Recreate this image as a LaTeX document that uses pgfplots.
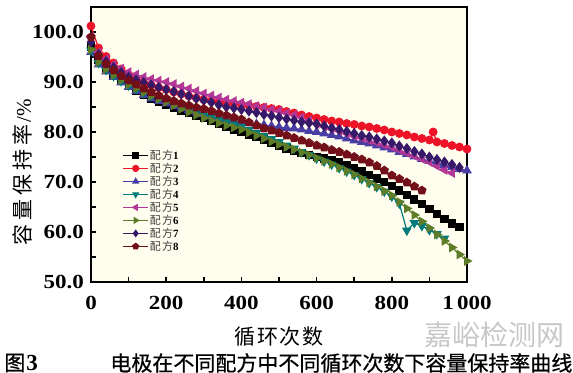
\documentclass[border=0pt]{standalone}
\usepackage{fontspec}
\setmainfont{Liberation Serif}
\newfontfamily\tickfont[FakeStretch=1.15]{Liberation Serif}
\newfontfamily\cjk{Noto Sans CJK SC}
\newfontfamily\cjkb[FakeBold=0.6]{Noto Sans CJK SC}
\usepackage{pgfplots}
\pgfplotsset{compat=1.18}
\usetikzlibrary{plotmarks}
\definecolor{cream}{RGB}{255,253,238}
\definecolor{c1}{RGB}{0,0,0}
\definecolor{c2}{RGB}{237,20,40}
\definecolor{c3}{RGB}{72,60,165}
\definecolor{c4}{RGB}{0,122,122}
\definecolor{c5}{RGB}{178,55,150}
\definecolor{c6}{RGB}{95,125,40}
\definecolor{c7}{RGB}{55,25,105}
\definecolor{c8}{RGB}{115,15,25}
\begin{document}
\begin{tikzpicture}[x=1pt,y=1pt]
\useasboundingbox (0,0) rectangle (286.5,186.5);
\begin{axis}[
  at={(45.5pt,45.5pt)}, anchor=south west,
  scale only axis, width=188pt, height=137.5pt,
  xmin=0, xmax=1000, ymin=50, ymax=105,
  xtick={0,200,400,600,800,1000},
  xticklabels={0,200,400,600,800,1\,000},
  ytick={50,60,70,80,90,100},
  yticklabels={50.0,60.0,70.0,80.0,90.0,100.0},
  minor xtick={100,300,500,700,900},
  minor ytick={55,65,75,85,95},
  tick align=inside, xtick pos=bottom, ytick pos=left,
  major tick length=2.5pt, minor tick length=2.5pt,
  axis line style={line width=0.9pt},
  every tick/.style={line width=0.8pt, black},
  ticklabel style={font=\tickfont\bfseries\fontsize{10}{12}\selectfont},
  xticklabel style={yshift=-3.5pt},
  axis background/.style={fill=cream},
  clip=false,
  xlabel={\cjk 循\hspace{0.8pt}环\hspace{0.8pt}次\hspace{0.8pt}数},
  xlabel style={at={(axis description cs:0.5,-0.2)}, anchor=center, font=\fontsize{10.5}{12}\selectfont},
  ylabel={{\cjk 容\hspace{2pt}量\hspace{2pt}保\hspace{2pt}持\hspace{2pt}率}\hspace{1pt}/\%},
  ylabel style={at={(axis description cs:-0.181,0.4)}, anchor=center, font=\fontsize{10.5}{12}\selectfont},
  legend style={at={(0.083,0.4836)}, anchor=north west, draw=none, fill=none,
    inner sep=0pt, row sep=0.5pt, font=\fontsize{5.5}{6}\selectfont,
    nodes={inner sep=0.5pt, text height=4.5pt, text depth=0.5pt}},
  legend cell align=left,
  legend image code/.code={\draw[mark repeat=2,mark phase=2,mark size=1.5pt,#1] plot coordinates {(0pt,0pt) (6.25pt,0pt) (12.5pt,0pt)};},
]
\addplot[c1, line width=0.6pt, mark=square*, mark size=1.75pt] coordinates {
(0,97.0)(20,94.5)(40,92.8)(60,91.4)(80,90.3)(100,89.3)(120,88.3)(140,87.4)(160,86.7)(180,86.1)(200,85.5)(220,84.9)(240,84.3)(260,83.8)(280,83.3)(300,82.8)(320,82.2)(340,81.6)(360,81.0)(380,80.5)(400,80.0)(420,79.5)(440,79.0)(460,78.5)(480,77.8)(500,77.2)(520,76.7)(540,76.2)(560,75.8)(580,75.4)(600,75.0)(620,74.7)(640,74.3)(660,73.9)(680,73.3)(700,72.8)(720,72.1)(740,71.4)(760,70.7)(780,70.0)(800,69.2)(820,68.3)(840,67.4)(860,66.5)(880,65.6)(900,64.6)(920,63.6)(940,62.6)(960,61.7)(980,61.0)};
\addlegendentry{{\color{black!75}\cjk 配\hspace{0.6pt}方}\textbf{1}}
\addplot[c2, line width=0.6pt, mark=*, mark size=1.9pt] coordinates {
(0,101.2)(20,96.8)(40,95.1)(60,93.8)(80,92.6)(100,91.4)(120,90.5)(140,89.9)(160,89.4)(180,88.9)(200,88.5)(220,88.0)(240,87.6)(260,87.2)(280,86.8)(300,86.5)(320,86.2)(340,86.0)(360,85.8)(380,85.7)(400,85.5)(420,85.3)(440,85.1)(460,84.9)(480,84.7)(500,84.5)(520,84.1)(540,83.8)(560,83.4)(580,83.1)(600,82.8)(620,82.5)(640,82.2)(660,82.0)(680,81.7)(700,81.5)(720,81.2)(740,81.0)(760,80.7)(780,80.4)(800,80.0)(820,79.7)(840,79.4)(860,79.0)(880,78.7)(900,78.4)(910,80.0)(920,78.0)(940,77.7)(960,77.3)(980,77.0)(1000,76.6)};
\addlegendentry{{\color{black!75}\cjk 配\hspace{0.6pt}方}\textbf{2}}
\addplot[c3, line width=0.6pt, mark=triangle*, mark size=2.2pt] coordinates {
(0,96.0)(20,93.5)(40,92.1)(60,91.0)(80,89.9)(100,89.0)(120,88.2)(140,87.4)(160,86.7)(180,86.2)(200,85.7)(220,85.2)(240,84.7)(260,84.3)(280,83.9)(300,83.5)(320,83.1)(340,82.8)(360,82.4)(380,82.2)(400,82.0)(420,81.8)(440,81.6)(460,81.4)(480,81.2)(500,81.0)(520,80.8)(540,80.7)(560,80.5)(580,80.2)(600,80.0)(620,79.7)(640,79.4)(660,79.1)(680,78.7)(700,78.3)(720,78.0)(740,77.7)(760,77.3)(780,76.9)(800,76.5)(820,76.0)(840,75.6)(860,75.1)(880,74.6)(900,74.2)(920,73.8)(940,73.4)(960,73.0)(980,72.6)(1000,72.3)};
\addlegendentry{{\color{black!75}\cjk 配\hspace{0.6pt}方}\textbf{3}}
\addplot[c4, line width=0.6pt, mark=triangle*, mark size=2.2pt, mark options={rotate=180}] coordinates {
(0,96.3)(20,93.8)(40,92.4)(60,91.2)(80,90.2)(100,89.3)(120,88.6)(140,87.9)(160,87.3)(180,86.8)(200,86.4)(220,85.8)(240,85.2)(260,84.6)(280,84.0)(300,83.5)(320,83.0)(340,82.5)(360,82.0)(380,81.5)(400,81.0)(420,80.4)(440,79.8)(460,79.2)(480,78.6)(500,78.0)(520,77.3)(540,76.7)(560,76.0)(580,75.4)(600,74.7)(620,74.1)(640,73.5)(660,72.8)(680,72.1)(700,71.4)(720,70.6)(740,69.8)(760,69.0)(780,68.1)(800,67.1)(820,65.7)(840,60.3)(860,61.8)(880,61.2)(900,60.4)(920,59.6)(940,58.7)};
\addlegendentry{{\color{black!75}\cjk 配\hspace{0.6pt}方}\textbf{4}}
\addplot[c5, line width=0.6pt, mark=triangle*, mark size=2.2pt, mark options={rotate=90}] coordinates {
(0,99.0)(20,96.0)(40,94.6)(60,93.5)(80,92.7)(100,92.0)(120,91.5)(140,91.0)(160,90.6)(180,90.3)(200,90.0)(220,89.6)(240,89.1)(260,88.7)(280,88.2)(300,87.7)(320,87.3)(340,86.9)(360,86.5)(380,86.2)(400,85.9)(420,85.6)(440,85.2)(460,84.9)(480,84.5)(500,84.2)(520,83.8)(540,83.4)(560,82.9)(580,82.3)(600,81.6)(620,81.1)(640,80.6)(660,80.2)(680,79.7)(700,79.2)(720,78.8)(740,78.3)(760,77.9)(780,77.4)(800,77.0)(820,76.4)(840,75.8)(860,75.2)(880,74.6)(900,74.0)(920,73.2)(940,72.4)(960,71.8)};
\addlegendentry{{\color{black!75}\cjk 配\hspace{0.6pt}方}\textbf{5}}
\addplot[c6, line width=0.6pt, mark=triangle*, mark size=2.2pt, mark options={rotate=-90}] coordinates {
(0,96.5)(20,94.0)(40,92.6)(60,91.4)(80,90.4)(100,89.5)(120,88.7)(140,87.9)(160,87.2)(180,86.6)(200,86.0)(220,85.3)(240,84.6)(260,84.0)(280,83.4)(300,82.8)(320,82.3)(340,81.8)(360,81.3)(380,80.9)(400,80.5)(420,79.9)(440,79.3)(460,78.7)(480,78.1)(500,77.5)(520,77.0)(540,76.5)(560,75.9)(580,75.4)(600,74.8)(620,74.2)(640,73.6)(660,72.9)(680,72.2)(700,71.5)(720,70.7)(740,69.9)(760,69.1)(780,68.2)(800,67.3)(820,66.0)(840,64.7)(860,63.4)(880,62.1)(900,60.8)(920,59.5)(940,58.2)(960,56.9)(980,55.5)(1000,54.2)};
\addlegendentry{{\color{black!75}\cjk 配\hspace{0.6pt}方}\textbf{6}}
\addplot[c7, line width=0.6pt, mark=diamond*, mark size=2.3pt] coordinates {
(0,98.0)(20,95.5)(40,94.1)(60,92.9)(80,91.9)(100,91.0)(120,90.4)(140,89.9)(160,89.4)(180,88.9)(200,88.5)(220,88.1)(240,87.6)(260,87.2)(280,86.7)(300,86.3)(320,85.9)(340,85.4)(360,85.0)(380,84.8)(400,84.5)(420,84.2)(440,83.9)(460,83.5)(480,83.2)(500,82.9)(520,82.6)(540,82.3)(560,82.0)(580,81.8)(600,81.6)(620,81.2)(640,80.8)(660,80.5)(680,80.1)(700,79.7)(720,79.3)(740,79.0)(760,78.6)(780,78.2)(800,77.8)(820,77.2)(840,76.7)(860,76.1)(880,75.6)(900,75.0)(920,74.5)(940,74.0)(960,73.5)(980,72.9)};
\addlegendentry{{\color{black!75}\cjk 配\hspace{0.6pt}方}\textbf{7}}
\addplot[c8, line width=0.6pt, mark=pentagon*, mark size=2.1pt] coordinates {
(0,99.0)(20,95.2)(40,93.6)(60,92.3)(80,91.2)(100,90.3)(120,89.5)(140,88.7)(160,88.0)(180,87.3)(200,86.7)(220,86.2)(240,85.7)(260,85.3)(280,84.9)(300,84.6)(320,84.2)(340,83.7)(360,83.3)(380,82.9)(400,82.5)(420,81.9)(440,81.3)(460,80.7)(480,80.3)(500,79.8)(520,79.3)(540,78.8)(560,78.3)(580,77.8)(600,77.3)(620,76.9)(640,76.4)(660,76.0)(680,75.5)(700,75.0)(720,74.5)(740,73.9)(760,73.2)(780,72.3)(800,71.3)(820,70.6)(840,69.9)(860,69.1)(880,68.3)};
\addlegendentry{{\color{black!75}\cjk 配\hspace{0.6pt}方}\textbf{8}}
\end{axis}
\node[anchor=west, inner sep=0pt, font=\fontsize{10.5}{12}\selectfont] at (2,5) {{\cjkb 图}\hspace{0.5pt}{\bfseries\fontsize{11.5}{12}\selectfont 3}};
\node[anchor=west, inner sep=0pt, font=\fontsize{10.5}{12}\selectfont] at (55,5) {\cjkb 电极在不同配方中不同循环次数下容量保持率曲线};
\node[anchor=center, inner sep=0pt, text=black!22, font=\fontsize{14}{16}\selectfont] at (247.25,19) {\cjk 嘉峪检测网};
\end{tikzpicture}
\end{document}
